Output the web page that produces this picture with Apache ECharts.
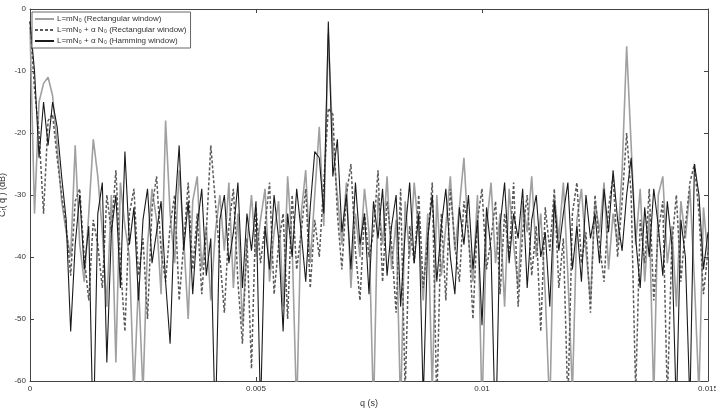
<!DOCTYPE html>
<html>
<head>
<meta charset="utf-8">
<script src="https://cdn.jsdelivr.net/npm/echarts@6/dist/echarts.min.js"></script>
<style>
  html, body { margin: 0; padding: 0; background: #fff; }
  #chart { width: 716px; height: 409px; }
</style>
</head>
<body>
<div id="chart"></div>
<script>
// sample spacing of the estimated curves (s)
var step = 0.0001;

var xTicks = [0, 0.005, 0.01, 0.015];

// L=mN0, rectangular window (light grey)
var rectA = [
  -3, -33, -15, -12, -11, -14, -22, -31, -36, -40,
  -22, -38, -44, -33, -21, -27, -36, -48, -30, -57,
  -28, -35, -40, -62, -44, -62, -38, -29, -34, -46,
  -18, -33, -41, -26, -37, -50, -31, -27, -42, -35,
  -47, -36, -30, -39, -28, -45, -33, -51, -38, -30,
  -40, -34, -29, -44, -36, -31, -48, -27, -38, -65,
  -33, -26, -41, -30, -19, -35, -4, -22, -30, -38,
  -28, -45, -33, -40, -29, -36, -65, -30, -38, -27,
  -42, -34, -65, -31, -40, -28, -36, -47, -33, -62,
  -30, -43, -35, -27, -39, -32, -24, -37, -44, -30,
  -65, -35, -28, -41, -33, -48, -29, -38, -45, -31,
  -36, -27, -40, -33, -46, -65, -30, -37, -28, -43,
  -62, -34, -29, -39, -47, -31, -36, -28, -42, -33,
  -38, -26, -6, -22, -38, -29, -44, -33, -63, -30,
  -27, -41, -35, -48, -31, -37, -29, -44, -62, -32,
  -40
];

// L=mN0 + a N0, rectangular window (dashed)
var rectB = [
  -2, -13, -20, -33, -18, -17, -24, -30, -35, -43,
  -31, -29, -40, -47, -34, -38, -45, -30, -36, -26,
  -41, -52, -33, -29, -43, -37, -50, -32, -27, -39,
  -44, -35, -30, -47, -38, -28, -42, -33, -46, -36,
  -22, -31, -40, -49, -35, -29, -44, -54, -37, -58,
  -32, -41, -35, -28, -46, -38, -33, -50, -30, -42,
  -36, -29, -45, -34, -40, -28, -16, -17, -33, -42,
  -30, -25, -39, -47, -33, -40, -36, -26, -44, -31,
  -38, -49, -29, -62, -35, -41, -30, -45, -37, -28,
  -64, -33, -47, -29, -38, -44, -31, -36, -50, -34,
  -29, -42, -37, -31, -46, -33, -40, -28, -48, -36,
  -30, -43, -35, -52, -32, -39, -29, -45, -37, -64,
  -33, -28, -41, -36, -49, -30, -38, -44, -32, -27,
  -40, -31, -20, -30, -62, -34, -41, -29, -47, -36,
  -31, -63, -38, -30, -44, -35, -28, -25, -33, -46,
  -39
];

// L=mN0 + a N0, Hamming window (black)
var hamm = [
  -2, -10, -24, -15, -22, -15, -19, -27, -34, -52,
  -38, -30, -42, -35, -70, -33, -28, -57, -36, -30,
  -45, -23, -38, -32, -47, -34, -29, -41, -36, -31,
  -44, -54, -33, -22, -39, -31, -46, -35, -29, -43,
  -37, -68, -34, -30, -41, -36, -28, -45, -33, -39,
  -31, -65, -35, -42, -30, -37, -52, -33, -40, -29,
  -36, -44, -32, -23, -24, -33, -2, -27, -21, -36,
  -30, -42, -28, -38, -33, -46, -31, -37, -29, -43,
  -35, -30, -48, -36, -28, -41, -33, -63, -37, -30,
  -44, -35, -29, -40, -46, -32, -38, -30, -42, -34,
  -51, -32, -39, -70, -35, -28, -41, -33, -37, -29,
  -45, -34, -30, -40, -36, -48, -31, -39, -33, -28,
  -42, -35, -44, -30, -37, -33, -41, -29, -36, -26,
  -34, -39, -30, -24, -37, -45, -32, -40, -29, -35,
  -43, -31, -38, -65, -34, -40, -64, -25, -30, -42,
  -36
];

function pairs(vals) {
  return vals.map(function (v, i) { return [+(i * step).toFixed(5), v]; });
}

var names = [
  'L=mN\u2080 (Rectangular window)',
  'L=mN\u2080 + \u03b1 N\u2080 (Rectangular window)',
  'L=mN\u2080 + \u03b1 N\u2080 (Hamming window)'
];

var font = 'Liberation Sans, Arial, sans-serif';
var axisCol = '#444';

var option = {
  animation: false,
  backgroundColor: '#fff',
  textStyle: { fontFamily: font },
  grid: { left: 30, right: 8, top: 9, bottom: 28, containLabel: false, outerBoundsMode: 'none' },
  legend: {
    left: 32, top: 12,
    orient: 'vertical',
    backgroundColor: '#fff',
    borderColor: '#666',
    borderWidth: 1,
    borderRadius: 0,
    padding: [3, 4, 3, 2],
    itemGap: 3,
    itemWidth: 19,
    itemHeight: 8,
    itemStyle: { opacity: 0 },
    textStyle: { fontSize: 8, color: '#333', fontFamily: font, padding: [0, 0, 0, -2] },
    data: names
  },
  xAxis: [{
    type: 'value', min: 0, max: 0.015, interval: 0.005,
    name: 'q (s)', nameLocation: 'middle', nameGap: 18, nameMoveOverlap: false,
    nameTextStyle: { fontSize: 9, color: '#333' },
    axisLine: { onZero: false, lineStyle: { color: axisCol } },
    axisTick: { inside: true, length: 4, lineStyle: { color: axisCol } },
    axisLabel: { fontSize: 8, color: '#333', margin: 4,
      formatter: function (v) { return xTicks.indexOf(+v.toFixed(3)) >= 0 ? String(+v.toFixed(3)) : ''; } },
    splitLine: { show: false }
  }, {
    type: 'value', min: 0, max: 0.015, interval: 0.005, position: 'top',
    axisLine: { onZero: false, lineStyle: { color: axisCol } },
    axisTick: { inside: true, length: 4, lineStyle: { color: axisCol } },
    axisLabel: { show: false },
    splitLine: { show: false }
  }],
  yAxis: [{
    type: 'value', min: -60, max: 0, interval: 10,
    name: 'C\u1d63( q ) (dB)', nameLocation: 'middle', nameGap: 23, nameRotate: 90,
    nameMoveOverlap: false,
    nameTextStyle: { fontSize: 9, color: '#333' },
    axisLine: { show: true, onZero: false, lineStyle: { color: axisCol } },
    axisTick: { show: true, inside: true, length: 4, lineStyle: { color: axisCol } },
    axisLabel: { fontSize: 8, color: '#333', margin: 4 },
    splitLine: { show: false }
  }, {
    type: 'value', min: -60, max: 0, interval: 10, position: 'right',
    axisLine: { show: true, onZero: false, lineStyle: { color: axisCol } },
    axisTick: { show: true, inside: true, length: 4, lineStyle: { color: axisCol } },
    axisLabel: { show: false },
    splitLine: { show: false }
  }],
  series: [{
    name: names[0], type: 'line', symbol: 'none', clip: true,
    data: pairs(rectA),
    lineStyle: { color: '#a0a0a0', width: 1.6 },
    itemStyle: { color: '#a0a0a0' }
  }, {
    name: names[1], type: 'line', symbol: 'none', clip: true,
    data: pairs(rectB),
    lineStyle: { color: '#5a5a5a', width: 1.5, type: [3, 2] },
    itemStyle: { color: '#5a5a5a' }
  }, {
    name: names[2], type: 'line', symbol: 'none', clip: true,
    data: pairs(hamm),
    lineStyle: { color: '#1a1a1a', width: 1.1 },
    itemStyle: { color: '#1a1a1a' }
  }]
};

var myChart = echarts.init(document.getElementById('chart'));
myChart.setOption(option);
</script>
</body>
</html>
